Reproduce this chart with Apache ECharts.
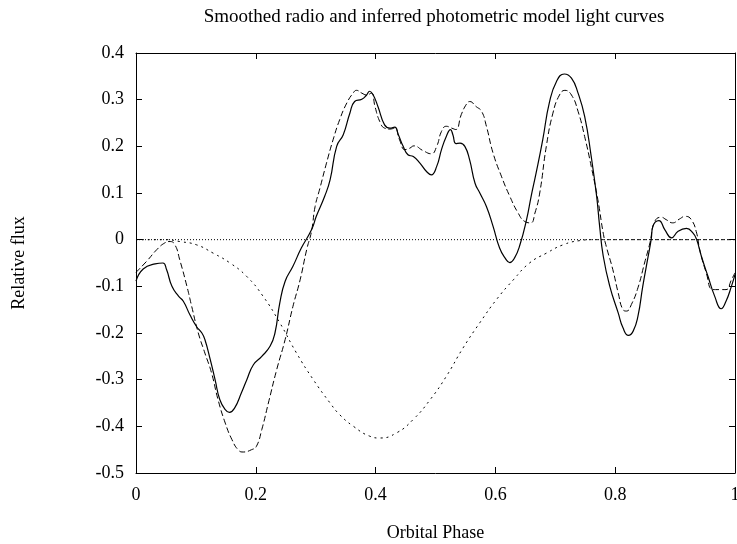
<!DOCTYPE html>
<html>
<head>
<meta charset="utf-8">
<script src="https://cdn.jsdelivr.net/npm/echarts@6/dist/echarts.min.js"></script>
<style>html,body{margin:0;padding:0;background:#fff}#c{width:737px;height:544px}</style>
</head>
<body>
<div id="c"></div>
<script>
const titleText = 'Smoothed radio and inferred photometric model light curves';
const xName = 'Orbital Phase';
const yName = 'Relative flux';

// Smoothed radio light curve (solid)
const radio = [[0,-0.089],[0.012,-0.063],[0.032,-0.052],[0.045,-0.05],[0.051,-0.064],[0.06,-0.1],[0.071,-0.121],[0.079,-0.132],[0.09,-0.161],[0.101,-0.186],[0.11,-0.2],[0.115,-0.214],[0.124,-0.257],[0.132,-0.3],[0.14,-0.343],[0.149,-0.364],[0.156,-0.37],[0.165,-0.36],[0.176,-0.328],[0.185,-0.3],[0.196,-0.268],[0.21,-0.25],[0.224,-0.228],[0.232,-0.2],[0.24,-0.136],[0.249,-0.089],[0.262,-0.057],[0.276,-0.018],[0.293,0.021],[0.301,0.05],[0.315,0.093],[0.324,0.128],[0.335,0.2],[0.346,0.225],[0.357,0.271],[0.365,0.296],[0.377,0.301],[0.385,0.31],[0.39,0.318],[0.396,0.31],[0.404,0.285],[0.415,0.246],[0.424,0.239],[0.432,0.241],[0.438,0.225],[0.446,0.2],[0.454,0.182],[0.463,0.178],[0.474,0.164],[0.485,0.146],[0.493,0.139],[0.502,0.157],[0.51,0.193],[0.518,0.221],[0.525,0.236],[0.529,0.225],[0.534,0.206],[0.541,0.207],[0.549,0.2],[0.557,0.171],[0.566,0.121],[0.574,0.1],[0.585,0.071],[0.596,0.029],[0.607,-0.018],[0.616,-0.039],[0.624,-0.049],[0.632,-0.039],[0.641,-0.011],[0.652,0.043],[0.66,0.095],[0.668,0.143],[0.679,0.214],[0.69,0.293],[0.702,0.339],[0.715,0.355],[0.727,0.346],[0.738,0.314],[0.749,0.264],[0.76,0.178],[0.769,0.093],[0.774,0.029],[0.78,-0.035],[0.791,-0.1],[0.805,-0.157],[0.813,-0.189],[0.822,-0.205],[0.83,-0.196],[0.838,-0.164],[0.846,-0.1],[0.855,-0.036],[0.86,0],[0.863,0.029],[0.873,0.041],[0.883,0.021],[0.894,0.004],[0.905,0.018],[0.919,0.024],[0.93,0.014],[0.936,0],[0.944,-0.036],[0.955,-0.079],[0.966,-0.121],[0.977,-0.148],[0.985,-0.132],[0.994,-0.1],[1,-0.075]];

// Inferred photometric light curve (dashed)
const inferred = [[0,-0.07],[0.018,-0.046],[0.035,-0.021],[0.048,-0.007],[0.057,-0.004],[0.065,-0.011],[0.073,-0.043],[0.085,-0.1],[0.093,-0.143],[0.104,-0.2],[0.115,-0.243],[0.126,-0.285],[0.137,-0.343],[0.149,-0.393],[0.16,-0.428],[0.171,-0.451],[0.179,-0.455],[0.193,-0.45],[0.201,-0.443],[0.21,-0.407],[0.221,-0.35],[0.235,-0.278],[0.249,-0.214],[0.262,-0.143],[0.274,-0.086],[0.285,-0.021],[0.293,0.018],[0.299,0.071],[0.307,0.11],[0.318,0.164],[0.329,0.214],[0.34,0.257],[0.352,0.293],[0.363,0.315],[0.368,0.32],[0.377,0.314],[0.385,0.31],[0.393,0.314],[0.399,0.285],[0.407,0.253],[0.415,0.239],[0.424,0.237],[0.432,0.239],[0.44,0.214],[0.449,0.193],[0.457,0.196],[0.464,0.201],[0.479,0.191],[0.493,0.184],[0.502,0.2],[0.51,0.232],[0.518,0.243],[0.527,0.239],[0.534,0.236],[0.543,0.268],[0.552,0.291],[0.557,0.296],[0.568,0.285],[0.577,0.275],[0.585,0.243],[0.596,0.186],[0.61,0.136],[0.624,0.093],[0.638,0.057],[0.649,0.039],[0.659,0.036],[0.666,0.057],[0.674,0.1],[0.685,0.2],[0.696,0.271],[0.707,0.31],[0.716,0.32],[0.727,0.31],[0.738,0.275],[0.749,0.221],[0.76,0.157],[0.771,0.086],[0.78,0.014],[0.785,-0.014],[0.796,-0.064],[0.805,-0.114],[0.813,-0.15],[0.819,-0.153],[0.827,-0.139],[0.838,-0.103],[0.849,-0.05],[0.858,-0.007],[0.866,0.039],[0.877,0.048],[0.885,0.043],[0.896,0.036],[0.907,0.044],[0.917,0.05],[0.927,0.043],[0.936,0.014],[0.941,-0.021],[0.952,-0.071],[0.963,-0.107],[0.974,-0.107],[0.985,-0.107],[0.994,-0.086],[1,-0.071]];

// Photometric model curve (dotted)
const model = [[0,0],[0.05,0],[0.073,-0.004],[0.101,-0.011],[0.129,-0.029],[0.157,-0.05],[0.185,-0.079],[0.212,-0.121],[0.24,-0.178],[0.268,-0.243],[0.296,-0.3],[0.324,-0.35],[0.34,-0.375],[0.363,-0.4],[0.39,-0.421],[0.407,-0.425],[0.435,-0.414],[0.463,-0.385],[0.491,-0.343],[0.518,-0.293],[0.546,-0.232],[0.574,-0.178],[0.602,-0.128],[0.63,-0.086],[0.657,-0.05],[0.685,-0.029],[0.713,-0.011],[0.741,-0.002],[0.763,0],[1,0]];

// Zero reference line
const zeroLine = [[0,0],[1,0]];

const xTicks = {min: 0, max: 1, step: 0.2};
const yTicks = {min: -0.5, max: 0.4, step: 0.1};

const FONT = "'Liberation Serif','DejaVu Serif','Times New Roman',serif";
const fmt = v => { const r = Math.round(v * 10) / 10; return Math.abs(r) < 1e-9 ? '0' : String(r); };

const chart = echarts.init(document.getElementById('c'), null, {renderer: 'canvas'});
const tickStyle = {show: true, inside: true, length: 6, lineStyle: {color: '#000', width: 1}};
const axisBase = {
  type: 'value',
  splitLine: {show: false},
  axisLine: {show: true, onZero: false, lineStyle: {color: '#000', width: 1}},
  axisTick: tickStyle
};
chart.setOption({
  animation: false,
  backgroundColor: '#fff',
  graphic: [{
    type: 'text', left: null, x: 434, y: 17,
    style: {text: titleText, fontFamily: FONT, fontSize: 19, fill: '#000',
            textAlign: 'center', textVerticalAlign: 'middle'}
  }],
  grid: {left: 136, right: 2, top: 53, bottom: 71, containLabel: false, outerBoundsMode: 'none'},
  xAxis: [
    Object.assign({}, axisBase, {
      position: 'bottom', min: xTicks.min, max: xTicks.max, interval: xTicks.step,
      name: xName, nameLocation: 'middle', nameGap: 51,
      nameTextStyle: {fontFamily: FONT, fontSize: 18, color: '#000'},
      axisLabel: {fontFamily: FONT, fontSize: 18, color: '#000', margin: 13, formatter: fmt}
    }),
    Object.assign({}, axisBase, {
      position: 'top', min: xTicks.min, max: xTicks.max, interval: xTicks.step,
      axisLabel: {show: false}
    })
  ],
  yAxis: [
    Object.assign({}, axisBase, {
      position: 'left', min: yTicks.min, max: yTicks.max, interval: yTicks.step,
      name: yName, nameLocation: 'middle', nameGap: 108, nameRotate: 90,
      nameTextStyle: {fontFamily: FONT, fontSize: 18, color: '#000'},
      axisLabel: {fontFamily: FONT, fontSize: 18, color: '#000', margin: 12, formatter: fmt}
    }),
    Object.assign({}, axisBase, {
      position: 'right', min: yTicks.min, max: yTicks.max, interval: yTicks.step,
      axisLabel: {show: false}
    })
  ],
  series: [
    {type: 'line', data: zeroLine, showSymbol: false, silent: true,
     lineStyle: {color: '#000', width: 1, type: [1, 2]}},
    {type: 'line', data: model, showSymbol: false, smooth: 0.5,
     lineStyle: {color: '#000', width: 1, type: [2, 4]}},
    {type: 'line', data: inferred, showSymbol: false, smooth: 0.5,
     lineStyle: {color: '#000', width: 1, type: [6, 3]}},
    {type: 'line', data: radio, showSymbol: false, smooth: 0.5,
     lineStyle: {color: '#000', width: 1.2, type: 'solid'}}
  ]
});
</script>
</body>
</html>
